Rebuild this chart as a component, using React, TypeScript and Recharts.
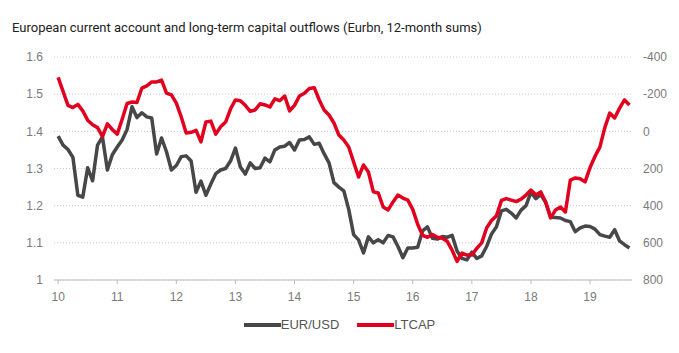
import React from 'react';
import { LineChart, Line, XAxis, YAxis, CartesianGrid, Legend } from 'recharts';

// monthly, Jan 2010 .. Sep 2019
const startYear = 10;
const yearTicks = [10, 11, 12, 13, 14, 15, 16, 17, 18, 19];
const leftTicks = [1, 1.1, 1.2, 1.3, 1.4, 1.5, 1.6];
const rightTicks = [-400, -200, 0, 200, 400, 600, 800];

const eurUsd = [
    1.387, 1.363, 1.351, 1.33, 1.228, 1.223, 1.302, 1.267, 1.363, 1.385, 1.296, 1.337,
    1.358, 1.377, 1.405, 1.466, 1.437, 1.45, 1.439, 1.436, 1.339, 1.382, 1.345, 1.296,
    1.308, 1.332, 1.334, 1.32, 1.236, 1.266, 1.228, 1.258, 1.286, 1.296, 1.3, 1.32,
    1.355, 1.304, 1.285, 1.315, 1.3, 1.302, 1.328, 1.318, 1.35, 1.358, 1.36, 1.37,
    1.35, 1.377, 1.378, 1.385, 1.365, 1.368, 1.34, 1.315, 1.262, 1.25, 1.24, 1.19,
    1.122, 1.108, 1.073, 1.116, 1.1, 1.108, 1.1, 1.12, 1.116, 1.09, 1.06, 1.086,
    1.086, 1.088, 1.132, 1.143, 1.112, 1.11, 1.117, 1.115, 1.12, 1.078, 1.058, 1.054,
    1.075, 1.058, 1.065, 1.09, 1.124, 1.143, 1.186, 1.19, 1.18, 1.167, 1.188, 1.2,
    1.236, 1.219, 1.23, 1.208, 1.169, 1.168, 1.167, 1.16, 1.157, 1.13, 1.14, 1.145,
    1.144, 1.137, 1.122, 1.118, 1.115, 1.135, 1.105, 1.095, 1.086,
];

const ltcap = [
    -290, -215, -140, -128, -145, -110, -60, -35, -20, 28, -40, -10,
    15, -65, -150, -158, -155, -233, -245, -266, -266, -276, -206, -196,
    -152, -77, 9, 5, -5, 57, -50, -55, 15, -25, -50, -120,
    -169, -165, -140, -108, -115, -148, -142, -131, -175, -165, -190, -110,
    -140, -190, -205, -230, -235, -170, -115, -88, -45, 20, 47, 84,
    165, 246, 181, 219, 326, 332, 407, 423, 380, 343, 359, 370,
    420, 500, 560, 570, 555, 570, 575, 592, 640, 700, 655, 666,
    666, 630, 600, 520, 480, 455, 372, 362, 370, 378, 365, 343,
    316, 343, 326, 380, 466, 423, 407, 434, 262, 251, 255, 272,
    195, 135, 85, -20, -98, -72, -125, -169, -142,
];

const data = eurUsd.map((v, i) => ({ t: startYear + i / 12, eurUsd: v, ltcap: ltcap[i] }));

const GRAY = '#474747';
const RED = '#e2001f';
const tickStyle = { fill: '#7a7a7a', fontSize: 12, fontFamily: 'Liberation Sans, Arial, sans-serif' };

const renderLegend = () => (
    <div style={{ display: 'flex', justifyContent: 'center', alignItems: 'center', fontFamily: 'Liberation Sans, Arial, sans-serif', fontSize: 13, color: '#555' }}>
        <span style={{ display: 'inline-block', width: 37, height: 4, background: GRAY }} />
        <span style={{ marginRight: 18 }}>EUR/USD</span>
        <span style={{ display: 'inline-block', width: 37, height: 4, background: RED }} />
        <span>LTCAP</span>
    </div>
);

export default function App() {
    return (
        <div style={{ position: 'absolute', left: 0, top: 0, width: 679, height: 353, background: '#fff' }}>
            <div style={{ position: 'absolute', left: 12, top: 20, fontFamily: 'Roboto, Arial, sans-serif', fontSize: 13, color: '#222', whiteSpace: 'nowrap' }}>
                European current account and long-term capital outflows (Eurbn, 12-month sums)
            </div>
            <LineChart width={679} height={353} data={data} margin={{ top: 57, right: 7, bottom: 43, left: 14 }}>
                <CartesianGrid vertical={false} stroke="#c8c8c8" strokeDasharray="1 2" yAxisId="left" />
                <XAxis
                    dataKey="t"
                    type="number"
                    domain={[9.93, 19.71]}
                    ticks={yearTicks}
                    allowDataOverflow
                    height={30}
                    stroke="#bbb"
                    tickSize={4}
                    tickMargin={8}
                    tick={tickStyle}
                    interval={0}
                />
                <YAxis
                    yAxisId="left"
                    domain={[1, 1.6]}
                    ticks={leftTicks}
                    width={40}
                    axisLine={false}
                    tickLine={false}
                    tickSize={0}
                    tickMargin={11}
                    tick={tickStyle}
                    interval={0}
                />
                <YAxis
                    yAxisId="right"
                    orientation="right"
                    reversed
                    domain={[-400, 800]}
                    ticks={rightTicks}
                    width={40}
                    axisLine={false}
                    tickLine={false}
                    tickSize={0}
                    tickMargin={11}
                    tick={tickStyle}
                    interval={0}
                />
                <Legend
                    layout="horizontal"
                    verticalAlign="middle"
                    align="center"
                    wrapperStyle={{ top: 317, left: 0, width: 679 }}
                    content={renderLegend}
                />
                <Line yAxisId="left" dataKey="eurUsd" name="EUR/USD" stroke={GRAY} strokeWidth={3.5} strokeLinejoin="round" dot={false} isAnimationActive={false} />
                <Line yAxisId="right" dataKey="ltcap" name="LTCAP" stroke={RED} strokeWidth={3.5} strokeLinejoin="round" dot={false} isAnimationActive={false} />
            </LineChart>
        </div>
    );
}
